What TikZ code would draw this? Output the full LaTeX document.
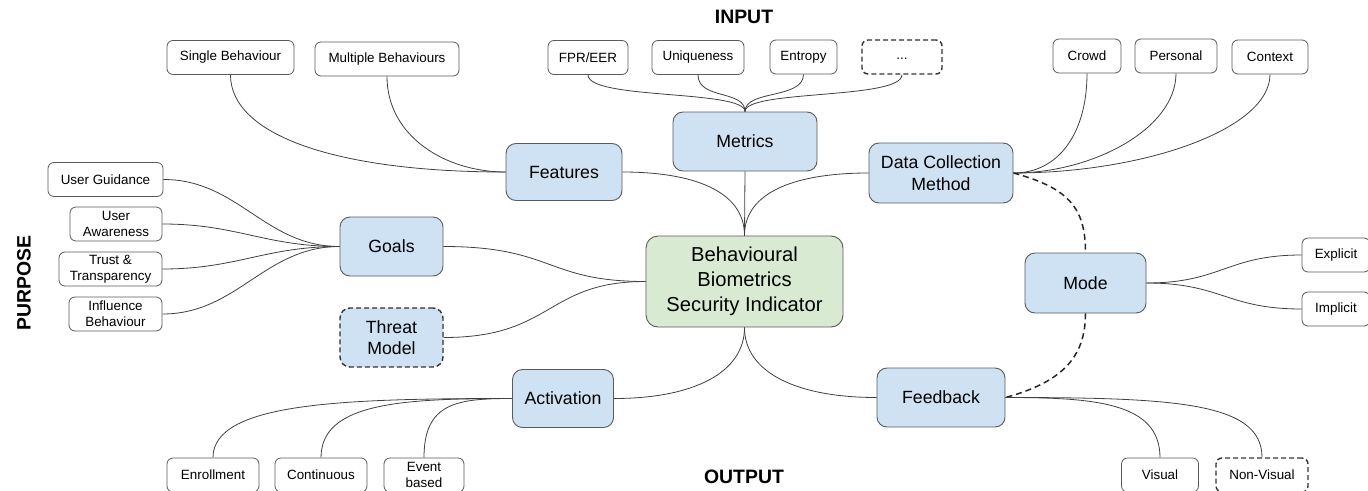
\documentclass[tikz,border=0pt]{standalone}
\usepackage{fontspec}
\setmainfont{Liberation Sans}
\usetikzlibrary{positioning}
\definecolor{topicblue}{HTML}{CFE2F3}
\definecolor{coregreen}{HTML}{D9EAD3}
\definecolor{boxgray}{HTML}{5A5A5A}
\definecolor{linkgray}{HTML}{404040}

\begin{document}
\begin{tikzpicture}[x=1pt,y=-1pt,
    leaf/.style={draw=boxgray, fill=white, rounded corners=6pt, line width=0.8pt,
        minimum height=34pt, inner xsep=3pt, inner ysep=1pt, align=center,
        font=\fontsize{13.4}{16}\selectfont},
    topic/.style={draw=boxgray, fill=topicblue, rounded corners=10pt, line width=0.9pt,
        minimum height=59pt, align=center, font=\fontsize{17.7}{21.5}\selectfont},
    core/.style={draw=boxgray, fill=coregreen, rounded corners=12pt, line width=0.9pt,
        minimum width=197pt, minimum height=91pt, align=center,
        font=\fontsize{20.2}{25}\selectfont},
    optional/.style={dashed, dash pattern=on 5pt off 3pt, line width=1.4pt, draw=black!80},
    heading/.style={font=\bfseries\fontsize{19.4}{22}\selectfont},
    link/.style={draw=linkgray, line width=0.8pt},
    optlink/.style={draw=black!85, line width=1.5pt, dash pattern=on 6pt off 4pt}]
\useasboundingbox (0,0) rectangle (1368,490);

% headings
\node[heading] (input) at (744,17) {INPUT};
\node[heading] (output) at (744,477) {OUTPUT};
\node[heading, rotate=90] (purpose) at (24,283) {PURPOSE};

% centre and topics
\node[core] (bbsi) at (744.5,281.5) {Behavioural\\Biometrics\\Security Indicator};
\node[topic, minimum width=144pt] (metrics) at (745,141.5) {Metrics};
\node[topic, minimum width=116pt, minimum height=57pt] (features) at (564,172) {Features};
\node[topic, minimum width=144pt, minimum height=60pt] (collect) at (941,173) {Data Collection\\Method};
\node[topic, minimum width=103pt] (goals) at (391.5,246.5) {Goals};
\node[topic, optional, minimum width=103pt] (threat) at (391.5,337.5) {Threat\\Model};
\node[topic, minimum width=101pt, minimum height=58pt] (activation) at (563,398.5) {Activation};
\node[topic, minimum width=128pt] (feedback) at (941,397.5) {Feedback};
\node[topic, minimum width=121pt, minimum height=60pt] (mode) at (1085.5,283) {Mode};

% leaves, top row
\node[leaf, minimum width=127pt] (single) at (230.5,57.5) {Single Behaviour};
\node[leaf, minimum width=144pt] (multi) at (387,59) {Multiple Behaviours};
\node[leaf, minimum width=80pt] (fpr) at (588,57.5) {FPR/EER};
\node[leaf, minimum width=92pt] (uniq) at (698,57.5) {Uniqueness};
\node[leaf, minimum width=67pt] (entropy) at (803.5,57) {Entropy};
\node[leaf, optional, minimum width=80pt] (more) at (902,57) {\raisebox{-4pt}{...}};
\node[leaf, minimum width=68pt] (crowd) at (1087,56) {Crowd};
\node[leaf, minimum width=82pt] (personal) at (1176,56) {Personal};
\node[leaf, minimum width=76pt] (context) at (1270,57) {Context};

% leaves, left column
\node[leaf, minimum width=115pt] (guidance) at (105.5,179.5) {User Guidance};
\node[leaf, minimum width=92pt] (awareness) at (116,224) {User\\Awareness};
\node[leaf, minimum width=103pt] (trust) at (110.5,269) {Trust \&\\Transparency};
\node[leaf, minimum width=93pt] (influence) at (115.5,314) {Influence\\Behaviour};

% leaves, right column
\node[leaf, minimum width=68pt] (explicit) at (1336,255) {Explicit};
\node[leaf, minimum width=68pt] (implicit) at (1336,309) {Implicit};

% leaves, bottom row
\node[leaf, minimum width=92pt] (enroll) at (213,475) {Enrollment};
\node[leaf, minimum width=92pt] (contin) at (321,475) {Continuous};
\node[leaf, minimum width=80pt] (event) at (424,475) {Event\\based};
\node[leaf, minimum width=77pt] (visual) at (1160,475) {Visual};
\node[leaf, optional, minimum width=92pt] (nonvis) at (1262,475) {Non-Visual};

% links to the centre
\draw[link] (metrics.south) -- (bbsi.north);
\draw[link] (features.east) .. controls +(70,0) and +(0,-45) .. (bbsi.north);
\draw[link] (collect.west) .. controls +(-70,0) and +(0,-45) .. (bbsi.north);
\draw[link] (goals.east) .. controls +(110,0) and +(-100,0) .. (bbsi.west);
\draw[link] (threat.east) .. controls +(110,0) and +(-100,0) .. (bbsi.west);
\draw[link] (activation.east) .. controls +(80,0) and +(0,45) .. (bbsi.south);
\draw[link] (feedback.west) .. controls +(-80,0) and +(0,45) .. (bbsi.south);

% features
\draw[link] (single.south) .. controls +(0,60) and +(-170,0) .. (features.west);
\draw[link] (multi.south) .. controls +(0,60) and +(-60,0) .. (features.west);

% metrics
\foreach \m in {fpr,uniq,entropy,more}
  \draw[link] (\m.south) .. controls +(0,25) and +(0,-22) .. (metrics.north);

% data collection
\draw[link] (collect.east) .. controls +(45,0) and +(0,60) .. (crowd.south);
\draw[link] (collect.east) .. controls +(80,0) and +(0,55) .. (personal.south);
\draw[link] (collect.east) .. controls +(130,0) and +(0,55) .. (context.south);

% goals
\foreach \g in {guidance,awareness,trust,influence}
  \draw[link] (goals.west) .. controls +(-75,0) and +(75,0) .. (\g.east);

% mode
\draw[link] (mode.east) .. controls +(75,0) and +(-75,0) .. (explicit.west);
\draw[link] (mode.east) .. controls +(75,0) and +(-75,0) .. (implicit.west);
\draw[optlink] (collect.east) .. controls +(55,15) and +(0,-45) .. (mode.north);
\draw[optlink] (mode.south) .. controls +(0,45) and +(55,-15) .. (feedback.east);

% activation
\draw[link] (activation.west) .. controls +(-170,0) and +(0,-55) .. (enroll.north);
\draw[link] (activation.west) .. controls +(-110,0) and +(0,-55) .. (contin.north);
\draw[link] (activation.west) .. controls +(-55,0) and +(0,-55) .. (event.north);

% feedback
\draw[link] (feedback.east) .. controls +(90,0) and +(0,-55) .. (visual.north);
\draw[link] (feedback.east) .. controls +(170,0) and +(0,-55) .. (nonvis.north);
\end{tikzpicture}
\end{document}
